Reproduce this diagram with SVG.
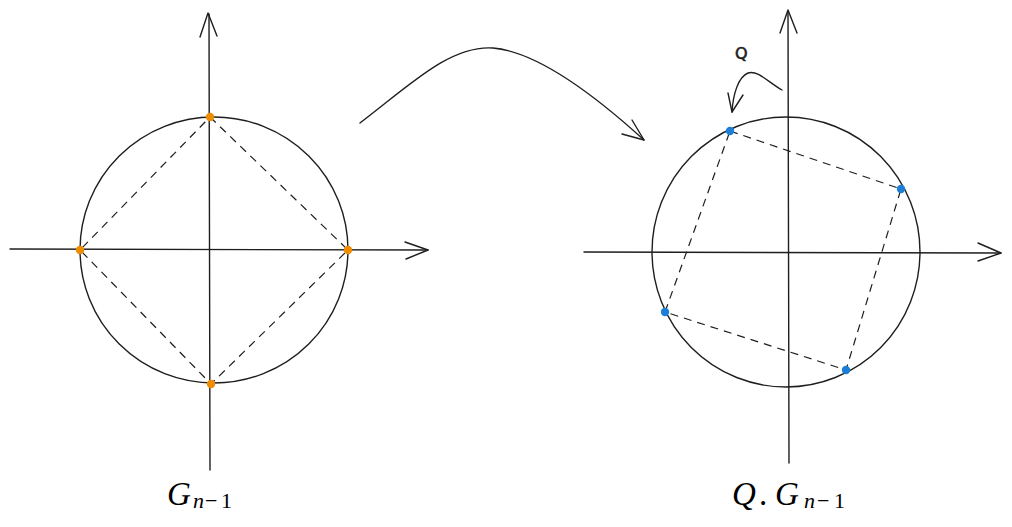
<svg xmlns="http://www.w3.org/2000/svg" width="1012" height="527" viewBox="0 0 1012 527">
<style>
.ln{fill:none;stroke:#1e1e1e;stroke-width:1.4;stroke-linecap:round;stroke-linejoin:round}
.ds{fill:none;stroke:#1e1e1e;stroke-width:1.2;stroke-dasharray:8 6}
.od{fill:#f08c00}
.bd{fill:#1c7ed6}
.m{font-family:"Liberation Serif","DejaVu Serif",serif;fill:#000}
.it{font-style:italic}
</style>
<rect width="1012" height="527" fill="#ffffff"/>
<g id="left">
<path class="ln" d="M209,14 L210,470"/>
<path class="ln" d="M200,37 L208,13 L217,36"/>
<path class="ln" d="M10,249 L428,250"/>
<path class="ln" d="M405,242 L428,250 L406,259"/>
<ellipse class="ln" cx="214" cy="250" rx="134" ry="133"/>
<path class="ds" d="M210,117 L348,250 L211,384 L80,250 Z"/>
<circle class="od" cx="210" cy="117" r="4.2"/>
<circle class="od" cx="348" cy="250" r="4.2"/>
<circle class="od" cx="211" cy="384" r="4.2"/>
<circle class="od" cx="80" cy="250" r="4.2"/>
</g>
<g id="right">
<path class="ln" d="M788,11 L789,463"/>
<path class="ln" d="M780,33 L788,10 L797,33"/>
<path class="ln" d="M584,252 L1001,253"/>
<path class="ln" d="M978,243 L1001,253 L978,261"/>
<ellipse class="ln" cx="786" cy="252" rx="134" ry="135"/>
<path class="ds" d="M730,131 L901,189 L846,370 L665,312 Z"/>
<circle class="bd" cx="730" cy="131" r="4.2"/>
<circle class="bd" cx="901" cy="189" r="4.2"/>
<circle class="bd" cx="846" cy="370" r="4.2"/>
<circle class="bd" cx="665" cy="312" r="4.2"/>
</g>
<g id="connectors">
<path class="ln" d="M360,123 C410,85 450,45 493,48 C540,52 600,100 644,140"/>
<path class="ln" d="M632,120 L644,140 L622,134"/>
<path class="ln" d="M782,90 C768,82 758,70 748,73 C738,77 733,95 732,112"/>
<path class="ln" d="M728,93 L732,112 L743,95"/>
</g>
<g id="labels">
<text x="735" y="59" font-family="DejaVu Sans,sans-serif" font-size="16" fill="#1e1e1e" stroke="#1e1e1e" stroke-width="0.6">Q</text>
<text class="m" y="505" font-size="33"><tspan class="it" x="167">G</tspan><tspan class="it" x="193" y="508" font-size="22">n</tspan><tspan x="205" font-size="22">−</tspan><tspan x="221" font-size="22">1</tspan></text>
<text class="m" y="505" font-size="33"><tspan class="it" x="732">Q</tspan><tspan x="759">.</tspan><tspan class="it" x="775">G</tspan><tspan class="it" x="804" y="508" font-size="22">n</tspan><tspan x="817" font-size="22">−</tspan><tspan x="834" font-size="22">1</tspan></text>
</g>
</svg>
